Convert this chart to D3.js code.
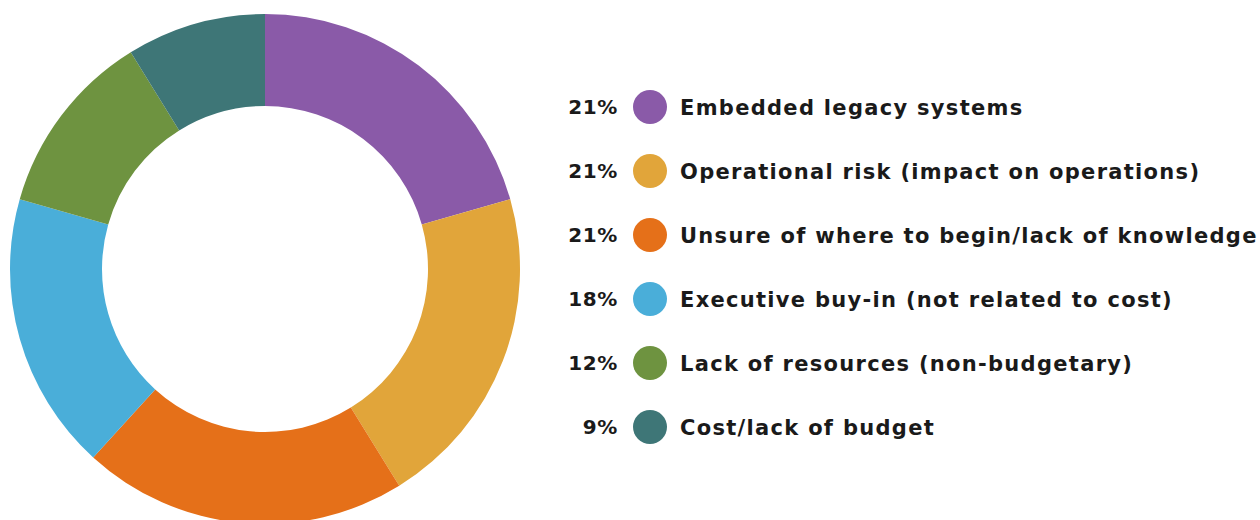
<!DOCTYPE html>
<html>
<head>
<meta charset="utf-8">
<script src="https://cdn.jsdelivr.net/npm/d3@7"></script>
<style>
  html, body { margin: 0; padding: 0; background: #ffffff; }
  svg { display: block; }
  .pct, .lbl { font-family: "DejaVu Sans", sans-serif; font-weight: 700; fill: #1a1a1a; }
  .lbl { letter-spacing: 1.3px; }
  .pct { letter-spacing: 0.6px; }
</style>
</head>
<body>
<svg id="chart" width="1260" height="520"></svg>
<script>
// Barriers, in clockwise order from 12 o'clock
const categories = [
  "Embedded legacy systems",
  "Operational risk (impact on operations)",
  "Unsure of where to begin/lack of knowledge",
  "Executive buy-in (not related to cost)",
  "Lack of resources (non-budgetary)",
  "Cost/lack of budget"
];
const shares = [21, 21, 21, 18, 12, 9];
const colors = ["#8a5aa8", "#e1a53a", "#e57019", "#4aaed9", "#6e9340", "#3e7677"];

const svg = d3.select("#chart");

// Donut
const cx = 265, cy = 269, outerR = 255, innerR = 163;
const pie = d3.pie().sort(null).value(d => d.value);
const arc = d3.arc().innerRadius(innerR).outerRadius(outerR);
const data = categories.map((c, i) => ({ name: c, value: shares[i], color: colors[i] }));

svg.append("g")
  .attr("transform", `translate(${cx},${cy})`)
  .selectAll("path")
  .data(pie(data))
  .join("path")
  .attr("d", arc)
  .attr("fill", d => d.data.color);

// Legend
const rowY = d3.scalePoint().domain(categories).range([107, 427]);
const legend = svg.append("g");
const rows = legend.selectAll("g").data(data).join("g")
  .attr("transform", d => `translate(0,${rowY(d.name)})`);

rows.append("text")
  .attr("class", "pct")
  .attr("x", 618)
  .attr("dy", "0.36em")
  .attr("text-anchor", "end")
  .attr("font-size", 20)
  .text(d => d.value + "%");

rows.append("circle")
  .attr("cx", 650)
  .attr("r", 17)
  .attr("fill", d => d.color);

rows.append("text")
  .attr("class", "lbl")
  .attr("x", 680)
  .attr("dy", "0.36em")
  .attr("font-size", 21)
  .text(d => d.name);
</script>
</body>
</html>
